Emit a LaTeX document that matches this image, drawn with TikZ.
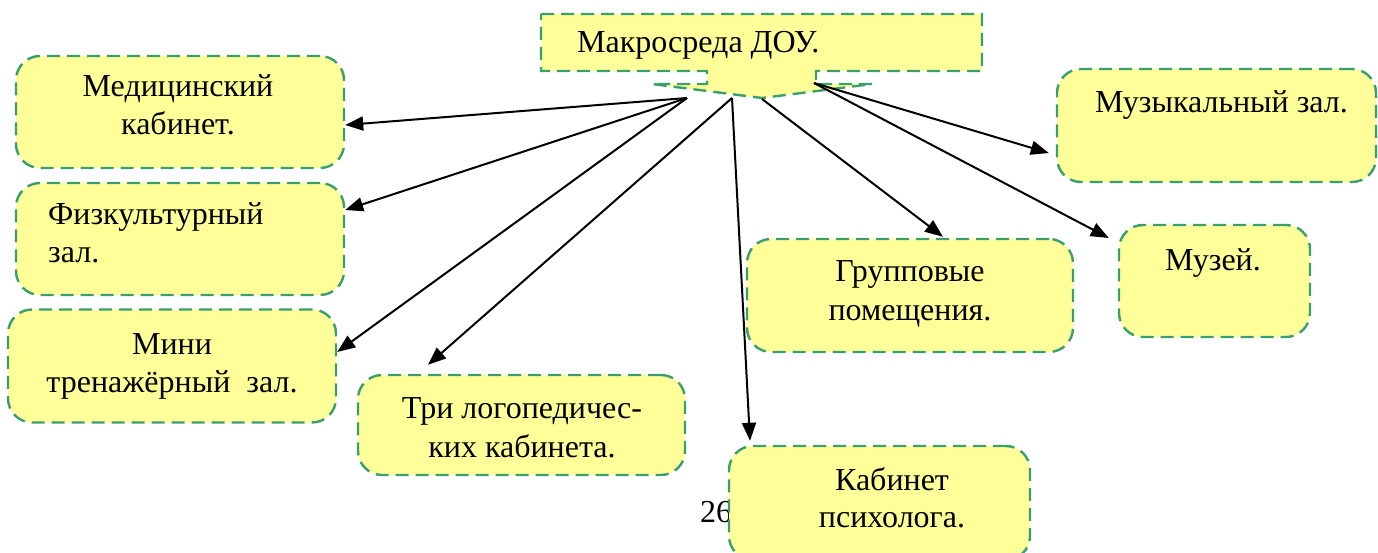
\documentclass[tikz,border=0pt]{standalone}
\usepackage{fontspec}
\setmainfont{Liberation Serif}
\usetikzlibrary{arrows.meta,calc}
\definecolor{boxfill}{RGB}{255,255,153}
\definecolor{boxline}{RGB}{58,158,110}
\begin{document}
\begin{tikzpicture}[x=1pt,y=-1pt,
  boxstyle/.style={draw=boxline,fill=boxfill,line width=2.4pt,dash pattern=on 13pt off 7pt,rounded corners=24pt,inner sep=0pt},
  lbl/.style={font=\fontsize{32}{38}\selectfont,inner sep=0pt,anchor=base},
  lblw/.style={lbl,anchor=base west},
  conn/.style={line width=2pt,-{Triangle[length=18pt,width=14pt]}}]
\useasboundingbox (0,0) rectangle (1378,553);
\clip (0,0) rectangle (1378,553);
% page number
\node[lblw] (pg) at (700,522) {26};
% callout
\path[fill=boxfill,draw=boxline,line width=2.4pt,dash pattern=on 13pt off 7pt]
  (541,14) -- (982,14) -- (982,71) -- (816,71) -- (816,84) -- (872,84) -- (762,98)
  -- (652,84) -- (707,84) -- (707,71) -- (541,71) -- cycle;
\node[lblw] (top) at (577,53) {Макросреда ДОУ.};
\coordinate (s1) at (687,98);
\coordinate (s2) at (732,98);
\coordinate (s3) at (762,99);
\coordinate (s4) at (814,83);
% boxes
\node[boxstyle,minimum width=328pt,minimum height=112pt] (med) at (180,112) {};
\node[boxstyle,minimum width=328pt,minimum height=112pt] (phys) at (180,239) {};
\node[boxstyle,minimum width=328pt,minimum height=113pt] (mini) at (172,366) {};
\node[boxstyle,minimum width=327pt,minimum height=100pt] (tri) at (521.5,425) {};
\node[boxstyle,minimum width=301pt,minimum height=114pt] (psy) at (879.5,503) {};
\node[boxstyle,minimum width=326pt,minimum height=113pt] (grp) at (910,295.5) {};
\node[boxstyle,minimum width=191pt,minimum height=112pt] (mus) at (1214.5,281) {};
\node[boxstyle,minimum width=319pt,minimum height=113pt] (muz) at (1216.5,125.5) {};
% texts
\node[lbl] (medA) at (178,97) {Медицинский};
\node[lbl] (medB) at (178,135) {кабинет.};
\node[lblw] (physA) at (48,225) {Физкультурный};
\node[lblw] (physB) at (48,263) {зал.};
\node[lbl] (miniA) at (172,354) {Мини};
\node[lbl] (miniB) at (172,392) {тренажёрный~ зал.};
\node[lbl] (triA) at (522,418) {Три логопедичес-};
\node[lbl] (triB) at (522,457) {ких кабинета.};
\node[lbl] (psyA) at (892,490) {Кабинет};
\node[lbl] (psyB) at (892,527) {психолога.};
\node[lbl] (grpA) at (910,282) {Групповые};
\node[lbl] (grpB) at (910,320) {помещения.};
\node[lbl] (musA) at (1213,270) {Музей.};
\node[lblw] (muzA) at (1095,113) {Музыкальный зал.};
% connectors
\draw[conn] (s1) -- ($(med.east)+(0,13)$);
\draw[conn] (s1) -- ($(phys.east)+(0,-29)$);
\draw[conn] (s1) -- ($(mini.east)+(0,-14)$);
\draw[conn] (s2) -- ($(tri.north)+(-93.5,-9)$);
\draw[conn] (s2) -- ($(psy.north)+(-129.5,-4)$);
\draw[conn] (s3) -- ($(grp.north)+(33,-1)$);
\draw[conn] (s4) -- ($(mus.west)+(-9,-43)$);
\draw[conn] (s4) -- ($(muz.west)+(-7,27.5)$);
\end{tikzpicture}
\end{document}
